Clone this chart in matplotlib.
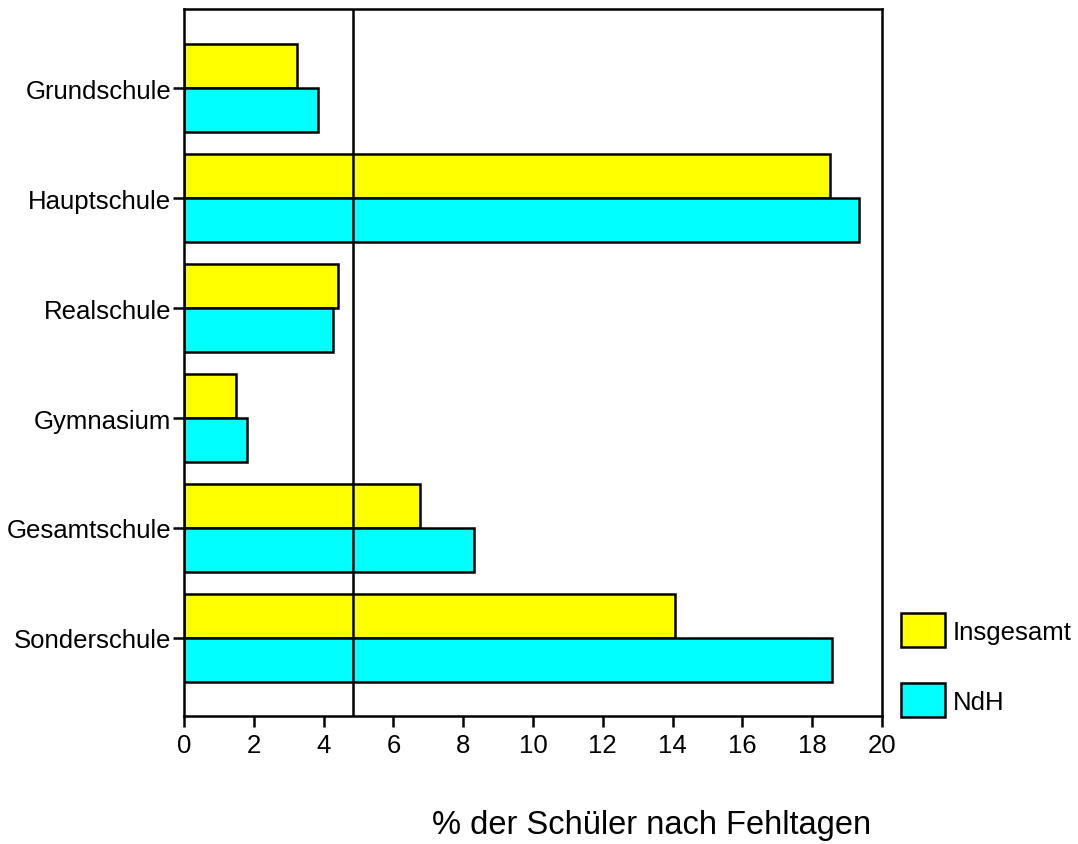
import matplotlib.pyplot as plt
import numpy as np
from matplotlib.patches import Rectangle

plt.rcParams['font.family'] = ['Liberation Sans', 'DejaVu Sans']

schools = ["Grundschule", "Hauptschule", "Realschule", "Gymnasium", "Gesamtschule", "Sonderschule"]
insgesamt = [3.24, 18.51, 4.41, 1.49, 6.76, 14.08]
ndh = [3.84, 19.34, 4.27, 1.81, 8.31, 18.57]
ref_line = 4.83

fig = plt.figure(figsize=(10.78, 8.45), dpi=100)
ax = fig.add_axes([184 / 1078, 1 - 717 / 845, 698 / 1078, 707 / 845])

y = np.arange(len(schools))
h = 0.4
ax.barh(y - h / 2, insgesamt, height=h, color="#ffff00", edgecolor="black", linewidth=1.8, zorder=2)
ax.barh(y + h / 2, ndh, height=h, color="#00ffff", edgecolor="black", linewidth=1.8, zorder=2)
ax.axvline(ref_line, color="black", linewidth=1.8, zorder=3)

ax.set_xlim(0, 20)
ax.set_ylim(len(schools) - 1 + 0.71, -0.72)
ax.set_xticks(np.arange(0, 21, 2))
ax.set_yticks(y)
ax.set_yticklabels(schools)
ax.tick_params(axis="both", labelsize=18.5, width=1.8, length=8, direction="out")
ax.tick_params(axis="x", pad=4)
ax.tick_params(axis="y", pad=1)
for s in ax.spines.values():
    s.set_linewidth(1.8)

fig.text(652 / 1078, 1 - 826 / 845, "% der Schüler nach Fehltagen", fontsize=23.5,
         ha="center", va="center")

# legend boxes
for yy, col, lab in [(614, "#ffff00", "Insgesamt"), (684, "#00ffff", "NdH")]:
    fig.patches.append(Rectangle((901 / 1078, 1 - (yy + 34) / 845), 44 / 1078, 34 / 845,
                                 transform=fig.transFigure, facecolor=col,
                                 edgecolor="black", linewidth=1.8))
    fig.text(953 / 1078, 1 - (yy + 19) / 845, lab, fontsize=18.5, ha="left", va="center")

fig.savefig("out.png", dpi=100)
